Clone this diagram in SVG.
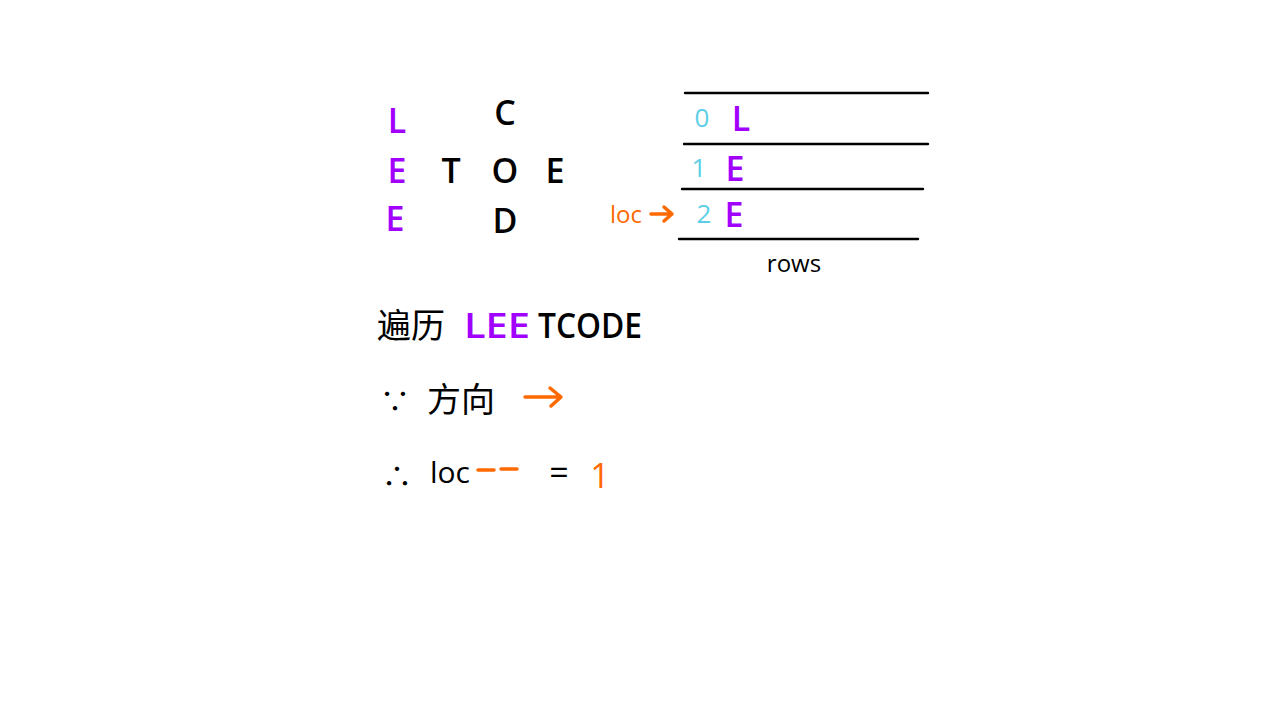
<svg xmlns="http://www.w3.org/2000/svg" width="1280" height="720" viewBox="0 0 1280 720">
<style>
text{font-family:"Open Sans","Liberation Sans","Noto Sans CJK SC",sans-serif;}
.k{fill:#000}
.p{fill:#a100ff}
.c{fill:#5ccfe6}
.o{fill:#ff6a00}
.big{font-size:34px;text-anchor:middle;font-weight:600}
.line{stroke:#000;stroke-width:2.4;stroke-linecap:round;fill:none}
.oarr{stroke:#ff6a00;stroke-width:3.5;stroke-linecap:round;stroke-linejoin:round;fill:none}
</style>
<rect width="1280" height="720" fill="#fff"/>
<g id="grid">
<text class="big p" x="397" y="133">L</text>
<text class="big k" x="505" y="125">C</text>
<text class="big p" x="397" y="183">E</text>
<text class="big k" x="451" y="183">T</text>
<text class="big k" x="505" y="183">O</text>
<text class="big k" x="555" y="183">E</text>
<text class="big p" x="395" y="231">E</text>
<text class="big k" x="505" y="233">D</text>
</g>
<g id="rows-table">
<line class="line" x1="685" y1="93" x2="928" y2="93"/>
<line class="line" x1="684" y1="144" x2="928" y2="144"/>
<line class="line" x1="682" y1="189" x2="923" y2="189"/>
<line class="line" x1="679" y1="239" x2="918" y2="239"/>
<text class="c" x="702" y="127" font-size="26" text-anchor="middle">0</text>
<text class="big p" x="741" y="131">L</text>
<text class="c" x="699" y="177" font-size="26" text-anchor="middle">1</text>
<text class="big p" x="735" y="181">E</text>
<text class="c" x="704" y="223" font-size="26" text-anchor="middle">2</text>
<text class="big p" x="734" y="227">E</text>
<text class="k" x="794" y="272" font-size="24" text-anchor="middle">rows</text>
</g>
<g id="loc-pointer">
<text class="o" x="626" y="223" font-size="24" text-anchor="middle">loc</text>
</g>
<g id="connectors">
<path class="oarr" d="M651 214 L672 214 M664 207 L672 214 L664 221"/>
<path class="oarr" d="M525 397 L560 397 M550 388 L561 397 L551 406"/>
<path class="oarr" stroke-width="2.8" d="M478 470 L494 470 M501 469 L517 469"/>
</g>
<g id="text-lines">
<text class="k" x="377" y="338" font-size="34">遍历</text>
<text class="p" x="464" y="338" font-size="34" font-weight="600" textLength="66" lengthAdjust="spacingAndGlyphs">LEE</text>
<text class="k" x="538" y="338" font-size="34" font-weight="600" textLength="104" lengthAdjust="spacingAndGlyphs">TCODE</text>
<text class="k" x="380" y="412" font-size="30">∵</text>
<text class="k" x="427" y="412" font-size="34">方向</text>
<text class="k" x="382" y="487" font-size="30">∴</text>
<text class="k" x="430" y="483" font-size="30">loc</text>
<text class="k" x="559" y="485" font-size="34" text-anchor="middle">=</text>
<text class="o" x="600" y="488" font-size="34" text-anchor="middle">1</text>
</g>
</svg>
